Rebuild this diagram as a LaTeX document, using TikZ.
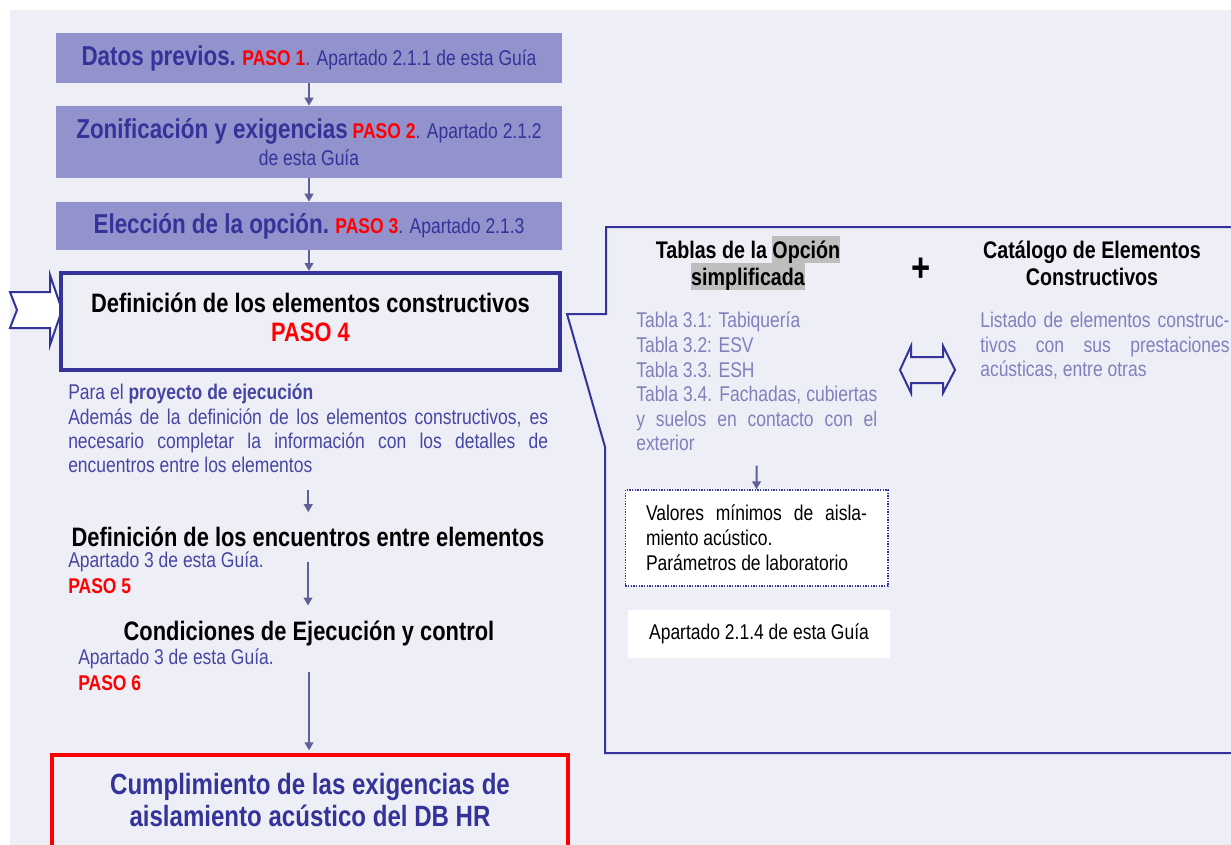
\documentclass[tikz,border=0pt]{standalone}
\usepackage{fontspec}
\setmainfont{Liberation Sans}[FakeStretch=0.82]
\usepackage{xcolor}
\usepackage{tikz}
\usetikzlibrary{arrows.meta, positioning}

\definecolor{fondo}{RGB}{238,238,246}
\definecolor{relleno}{RGB}{146,146,204}
\definecolor{azul}{RGB}{51,51,153}
\definecolor{azulclaro}{RGB}{70,70,165}
\definecolor{lila}{RGB}{128,128,188}
\definecolor{gris}{RGB}{190,190,190}
\definecolor{flechagris}{RGB}{96,96,150}

\setlength{\parindent}{0pt}
\newcommand{\titulo}[1]{{\fontsize{20.5}{24}\selectfont\bfseries #1}}
\newcommand{\paso}[1]{{\bfseries\color{red}#1}}
\newcommand{\resaltar}[1]{{\setlength{\fboxsep}{0pt}\colorbox{gris}{\rule[-3.5pt]{0pt}{20pt}#1}}}

\begin{document}
\begin{tikzpicture}[
        x=0.75pt, y=-0.75pt,
        % Node styles
        stepbox/.style={rectangle, fill=relleno, minimum width=380pt, text=azul,
                        align=center, inner sep=0pt, font=\fontsize{16}{20}\selectfont},
        mainbox/.style={rectangle, draw=azul, line width=3pt, minimum width=374pt,
                        minimum height=72.75pt, align=center, inner sep=0pt, text depth=6pt,
                        font=\fontsize{20}{21.75}\selectfont\bfseries},
        title/.style={align=center, inner sep=0pt, font=\fontsize{20}{24}\selectfont\bfseries},
        note/.style={anchor=west, inner sep=0pt, text=azulclaro, font=\fontsize{16}{18.2}\selectfont},
        listtext/.style={anchor=north west, inner sep=0pt, align=justify, text=lila,
                        font=\fontsize{16}{18.4}\selectfont},
        subtitle/.style={align=center, inner sep=0pt, font=\fontsize{18}{20.25}\selectfont\bfseries},
        valuebox/.style={rectangle, draw=azul, densely dotted, line width=1pt, fill=white,
                        minimum width=197pt, minimum height=72pt, text width=165.75pt,
                        align=justify, inner sep=0pt, font=\fontsize{16}{18.75}\selectfont},
        whitebox/.style={rectangle, fill=white, minimum width=196.5pt, minimum height=36pt,
                        inner sep=0pt, font=\fontsize{16}{18}\selectfont},
        resultbox/.style={rectangle, draw=red, line width=3pt, minimum width=387pt, minimum height=97.5pt},
        resulttext/.style={align=center, inner sep=0pt, text=azul, font=\fontsize{22}{24}\selectfont\bfseries},
        shapeline/.style={draw=azul, line width=1.5pt, line join=miter},
        arrow/.style={draw=flechagris, line width=1.5pt, -{Triangle[length=6pt, width=6.5pt]}}
    ]
        % Background
        \fill[fondo] (10,10) rectangle (1231,845);
        \useasboundingbox (0,0) rectangle (1231,845);

        % Steps 1 to 3
        \node[stepbox, minimum height=37.5pt] (paso1) at (309,58) {\titulo{Datos previos.} \paso{PASO 1}. Apartado 2.1.1 de esta Guía};
        \node[stepbox, minimum height=54pt] (paso2) at (309,142) {\titulo{Zonificación y exigencias} \paso{PASO 2}. Apartado 2.1.2\\ de esta Guía};
        \node[stepbox, minimum height=36pt] (paso3) at (309,226) {\titulo{Elección de la opción.} \paso{PASO 3}. Apartado 2.1.3};

        % Step 4 with the block arrow
        \draw[shapeline, fill=white] (10,292) -- (50,292) -- (50,275) -- (62,310) -- (50,345) -- (50,328) -- (10,328) -- (17,310) -- cycle;
        \node[mainbox] (paso4) at (310.5,321.5) {Definición de los elementos constructivos\\ {\color{red}PASO 4}};

        \node[note, anchor=north west, text width=360pt, align=justify] (proyecto) at (68,384) {Para el \textbf{proyecto de ejecución}\\ Además de la definición de los elementos constructivos, es\linebreak necesario completar la información con los detalles de\linebreak encuentros entre los elementos};

        % Steps 5 and 6
        \node[title] (encuentros) at (308,537) {Definición de los encuentros entre elementos};
        \node[note] (apartado5) at (68,562) {Apartado 3 de esta Guía.};
        \node[note, text=red, font=\fontsize{16}{18}\selectfont\bfseries] (paso5) at (68,586) {PASO 5};

        \node[title] (condiciones) at (309,633) {Condiciones de Ejecución y control};
        \node[note] (apartado6) at (78,659) {Apartado 3 de esta Guía.};
        \node[note, text=red, font=\fontsize{16}{18}\selectfont\bfseries] (paso6) at (78,683) {PASO 6};

        % Result
        \node[resultbox] (cumplimiento) at (310,820) {};
        \node[resulttext] (cumplimientotexto) at (310,800) {Cumplimiento de las exigencias de\\ aislamiento acústico del DB HR};

        % Callout on the right
        \draw[shapeline] (1240,227) -- (606,227) -- (606,314) -- (567,314) -- (605,447) -- (605,753) -- (1240,753);

        \node[subtitle] (tablas) at (748,263) {Tablas de la \resaltar{Opción}\\ \resaltar{simplificada}};
        \node[font=\fontsize{30}{30}\selectfont\bfseries, inner sep=0pt] (mas) at (921,270) {+};
        \node[subtitle] (catalogo) at (1092,263) {Catálogo de Elementos\\ Constructivos};

        \node[listtext, text width=180.75pt] (listatablas) at (636,312) {Tabla 3.1: Tabiquería\\ Tabla 3.2: ESV\\ Tabla 3.3. ESH\\ Tabla 3.4. Fachadas, cubiertas\linebreak y suelos en contacto con el\linebreak exterior};
        \node[listtext, text width=187pt] (listado) at (980,312) {Listado de elementos construc-\linebreak tivos con sus prestaciones\linebreak acústicas, entre otras};

        % Double arrow between the two sources
        \draw[shapeline] (900,370) -- (911,346) -- (911,357) -- (943,357) -- (943,346) -- (955,370) -- (943,393) -- (943,383) -- (911,383) -- (911,393) -- cycle;

        \node[valuebox] (valores) at (756.5,538) {Valores mínimos de aisla-\linebreak miento acústico.\\ Parámetros de laboratorio};
        \node[whitebox] (apartado214) at (759,634) {Apartado 2.1.4 de esta Guía};

        % Arrows
        \draw[arrow] (paso1.south) -- (paso2.north);
        \draw[arrow] (paso2.south) -- (paso3.north);
        \draw[arrow] (paso3.south) -- (paso3.south |- paso4.north);
        \draw[arrow, shorten <=12.75pt, shorten >=11pt] (proyecto.south) -- (proyecto.south |- encuentros.north);
        \draw[arrow, shorten <=11pt, shorten >=11pt] (encuentros.south) -- (encuentros.south |- condiciones.north);
        \draw[arrow, shorten <=20pt, shorten >=2pt] (condiciones.south) -- (condiciones.south |- cumplimiento.north);
        \draw[arrow, shorten <=10.8pt] (listatablas.south) -- (valores.north);
    \end{tikzpicture}
\end{document}
